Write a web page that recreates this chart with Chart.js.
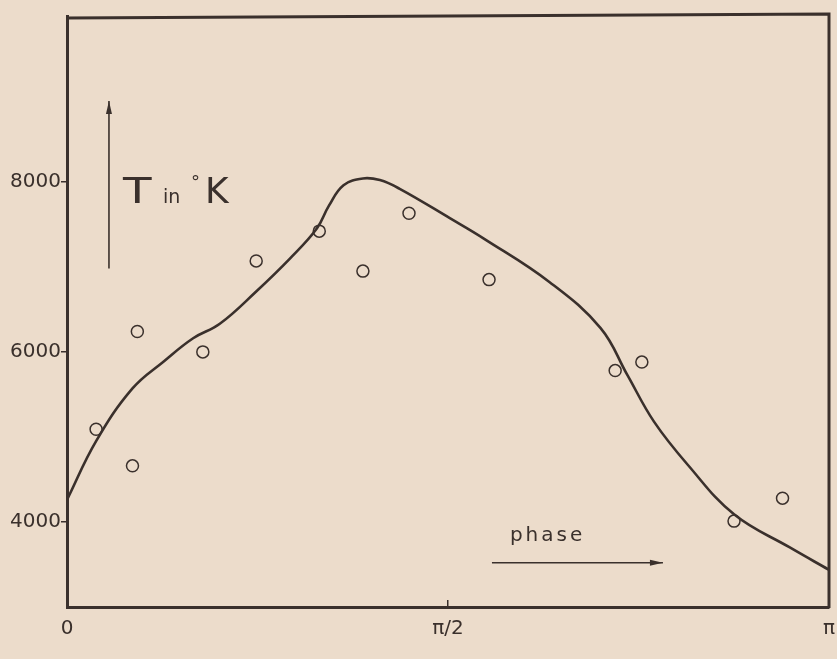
<!DOCTYPE html>
<html>
<head>
<meta charset="utf-8">
<script src="https://cdn.jsdelivr.net/npm/chart.js@4.4.1/dist/chart.umd.min.js"></script>
<style>
  html, body { margin: 0; padding: 0; background: #ecdccb; }
  #wrap { width: 837px; height: 659px; }
</style>
</head>
<body>
<div id="wrap"><canvas id="tempChart"></canvas></div>
<script>
// axis ticks
const phaseTicks = [0, Math.PI / 2, Math.PI];
const phaseTickLabels = ['0', 'π/2', 'π'];
const tempTicks = [4000, 6000, 8000];

// observed temperatures (open circles)
const obsPhase = [0.12, 0.27, 0.29, 0.56, 0.78, 1.04, 1.22, 1.41, 1.74, 2.26, 2.37, 2.75, 2.95];
const obsTemp = [5090, 4660, 6240, 6000, 7070, 7420, 6950, 7630, 6850, 5780, 5880, 4010, 4280];

// smooth curve through the observations
const fitPhase = [0, 0.12, 0.27, 0.40, 0.52, 0.63, 0.78, 0.92, 1.03, 1.08, 1.14, 1.22, 1.29, 1.37, 1.58, 1.72, 1.99, 2.20, 2.31, 2.42, 2.56, 2.75, 2.98, 3.14];
const fitTemp = [4260, 4950, 5570, 5890, 6160, 6330, 6710, 7100, 7450, 7720, 7960, 8040, 8020, 7920, 7570, 7330, 6820, 6280, 5730, 5180, 4670, 4090, 3700, 3440];

const INK = '#3a302c';
const PAPER = '#ecdccb';
const LETTER = '"DejaVu Sans", sans-serif';

const zip = (xs, ys) => xs.map((x, i) => ({ x: x, y: ys[i] }));

function arrow(ctx, x1, y1, x2, y2) {
    const a = Math.atan2(y2 - y1, x2 - x1);
    ctx.beginPath();
    ctx.moveTo(x1, y1);
    ctx.lineTo(x2, y2);
    ctx.stroke();
    ctx.beginPath();
    ctx.moveTo(x2, y2);
    ctx.lineTo(x2 - 13 * Math.cos(a) + 3 * Math.sin(a), y2 - 13 * Math.sin(a) - 3 * Math.cos(a));
    ctx.lineTo(x2 - 13 * Math.cos(a) - 3 * Math.sin(a), y2 - 13 * Math.sin(a) + 3 * Math.cos(a));
    ctx.closePath();
    ctx.fill();
}

// paper background, closing frame and hand lettering
const sheet = {
    id: 'sheet',
    beforeDraw(chart) {
        const c = chart.ctx;
        c.save();
        c.fillStyle = PAPER;
        c.fillRect(0, 0, chart.width, chart.height);
        c.restore();
    },
    afterDraw(chart) {
        const c = chart.ctx, a = chart.chartArea;
        const xs = chart.scales.x, ys = chart.scales.y;
        c.save();
        c.strokeStyle = INK;
        c.fillStyle = INK;
        c.lineWidth = 3;
        c.beginPath();
        c.moveTo(a.left - 1, a.top + 2);
        c.lineTo(a.right, a.top - 2);
        c.lineTo(a.right, a.bottom + 1);
        c.stroke();

        // T axis arrow
        c.lineWidth = 1.6;
        arrow(c, xs.getPixelForValue(0.173), ys.getPixelForValue(6980), xs.getPixelForValue(0.173), ys.getPixelForValue(8950));
        // phase arrow
        arrow(c, xs.getPixelForValue(1.752), ys.getPixelForValue(3520), xs.getPixelForValue(2.457), ys.getPixelForValue(3520));

        c.textBaseline = 'alphabetic';
        const bx = xs.getPixelForValue(0.231), by = ys.getPixelForValue(7754);
        c.font = '36px ' + LETTER;
        c.save();
        c.translate(bx, by);
        c.scale(1.3, 1);
        c.fillText('T', 0, 0);
        c.restore();
        c.font = '19px ' + LETTER;
        c.fillText('in', bx + 40, by);
        c.font = '18px ' + LETTER;
        c.fillText('°', bx + 68, by - 15);
        c.font = '36px ' + LETTER;
        c.fillText('K', bx + 82, by);

        c.font = '20px ' + LETTER;
        c.letterSpacing = '3px';
        c.fillText('phase', xs.getPixelForValue(1.826), ys.getPixelForValue(3777));
        c.restore();
    }
};

new Chart(document.getElementById('tempChart'), {
    type: 'scatter',
    data: {
        datasets: [{
            label: 'curve',
            type: 'line',
            data: zip(fitPhase, fitTemp),
            borderColor: INK,
            borderWidth: 2.6,
            tension: 0.4,
            pointRadius: 0,
            fill: false
        }, {
            label: 'observed',
            data: zip(obsPhase, obsTemp),
            pointStyle: 'circle',
            pointRadius: 6,
            pointBorderWidth: 1.5,
            pointBorderColor: INK,
            pointBackgroundColor: 'rgba(0,0,0,0)'
        }]
    },
    options: {
        responsive: true, maintainAspectRatio: false, animation: false,
        layout: { padding: { top: 16, right: 8, left: 0, bottom: 0 } },
        plugins: { legend: { display: false }, tooltip: { enabled: false } },
        scales: {
            x: {
                type: 'linear', min: 0, max: Math.PI,
                afterBuildTicks: (s) => { s.ticks = phaseTicks.map(v => ({ value: v })); },
                afterFit: (s) => { s.height = 52; s.paddingLeft = 0; s.paddingRight = 0; },
                border: { display: true, width: 3, color: INK },
                // tick marks point up into the plot
                grid: {
                    drawOnChartArea: false, tickLength: -7, lineWidth: 1.5,
                    color: (ctx) => (ctx.index === 1 ? INK : 'rgba(0,0,0,0)')
                },
                ticks: {
                    padding: 17, color: INK, maxRotation: 0,
                    font: { family: LETTER, size: 20 },
                    callback: (v, i) => phaseTickLabels[i]
                }
            },
            y: {
                type: 'linear', min: 3000, max: 9950,
                afterBuildTicks: (s) => { s.ticks = tempTicks.map(v => ({ value: v })); },
                afterFit: (s) => { s.width = 67; s.paddingTop = 0; s.paddingBottom = 0; },
                border: { display: true, width: 3, color: INK },
                grid: { drawOnChartArea: false, tickLength: 6, lineWidth: 1.5, color: INK },
                ticks: {
                    padding: 0, color: INK,
                    font: { family: LETTER, size: 20 },
                    callback: (v) => String(v)
                }
            }
        }
    },
    plugins: [sheet]
});
</script>
</body>
</html>
